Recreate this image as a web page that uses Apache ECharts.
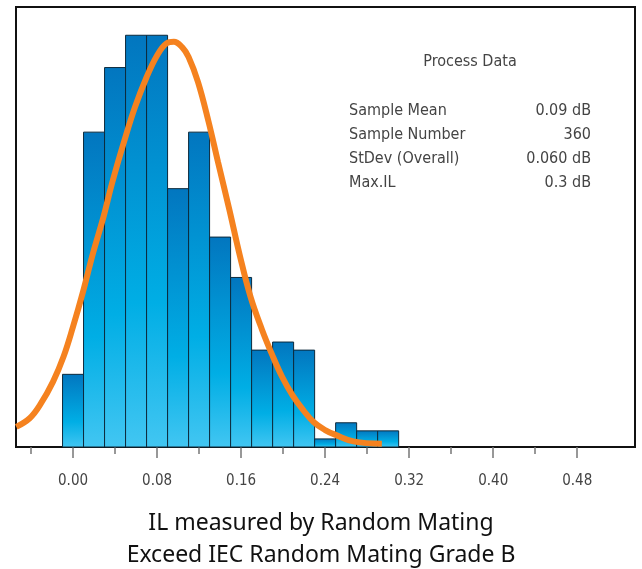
<!DOCTYPE html>
<html>
<head>
<meta charset="utf-8">
<script src="https://cdn.jsdelivr.net/npm/echarts@6/dist/echarts.min.js"></script>
<style>
  html, body { margin: 0; padding: 0; background: #fff; }
  #main { width: 642px; height: 569px; }
</style>
</head>
<body>
<div id="main"></div>
<script>
// histogram bins (centre, count), width 0.02
var binCenters = [0.00, 0.02, 0.04, 0.06, 0.08, 0.10, 0.12, 0.14, 0.16, 0.18, 0.20, 0.22, 0.24, 0.26, 0.28, 0.30];
var binCounts  = [9, 39, 47, 51, 51, 32, 39, 26, 21, 12, 13, 12, 1, 3, 2, 2];
var binWidth = 0.02;

// fitted curve
var curveX = [-0.054, -0.041, -0.031, -0.019, -0.009, 0.000, 0.009, 0.019, 0.029, 0.037, 0.049, 0.059, 0.070,
              0.080, 0.089, 0.096, 0.104, 0.110, 0.119, 0.129, 0.138, 0.149, 0.159, 0.169, 0.180, 0.189, 0.199,
              0.209, 0.219, 0.229, 0.240, 0.250, 0.267, 0.294];
var curveY = [2.5, 3.6, 5.3, 8.1, 11.2, 14.9, 19.0, 24.0, 28.5, 32.6, 38.0, 42.1, 45.8,
              48.5, 50.0, 50.2, 49.5, 48.3, 45.2, 40.3, 35.3, 29.3, 23.6, 18.6, 14.5, 11.6, 8.7,
              6.4, 4.6, 3.1, 2.1, 1.5, 0.7, 0.4];

var majorTicks = [0, 0.08, 0.16, 0.24, 0.32, 0.40, 0.48];
var minorTicks = [-0.04, 0.04, 0.12, 0.20, 0.28, 0.36, 0.44];

var statTitle = 'Process Data';
var statNames = ['Sample Mean', 'Sample Number', 'StDev (Overall)', 'Max.IL'];
var statValues = ['0.09 dB', '360', '0.060 dB', '0.3 dB'];

var captionLines = ['IL measured by Random Mating', 'Exceed IEC Random Mating Grade B'];

var chart = echarts.init(document.getElementById('main'));

var xMin = -0.0543, xMax = 0.535;
var labelFont = '"DejaVu Sans Condensed", "DejaVu Sans", sans-serif';

var bars = binCenters.map(function (c, i) { return [c, binCounts[i]]; });
var curve = curveX.map(function (x, i) { return [x, curveY[i]]; });

var graphics = [{
  type: 'text',
  style: { text: statTitle, x: 470, y: 62, textAlign: 'center', textVerticalAlign: 'middle',
           font: '16px ' + labelFont, fill: '#444' }
}];
statNames.forEach(function (n, i) {
  graphics.push({
    type: 'text',
    style: { text: n, x: 349, y: 111 + 24 * i, textAlign: 'left', textVerticalAlign: 'middle',
             font: '16px ' + labelFont, fill: '#444' }
  });
  graphics.push({
    type: 'text',
    style: { text: statValues[i], x: 591, y: 111 + 24 * i, textAlign: 'right', textVerticalAlign: 'middle',
             font: '16px ' + labelFont, fill: '#444' }
  });
});
captionLines.forEach(function (t, i) {
  graphics.push({
    type: 'text',
    style: { text: t, x: 321, y: 523 + 32 * i, textAlign: 'center', textVerticalAlign: 'middle',
             font: '23px "Noto Sans", sans-serif', fill: '#111' }
  });
});

chart.setOption({
  animation: false,
  backgroundColor: '#fff',
  grid: {
    left: 16, right: 7, top: 7, bottom: 122,
    show: true, borderColor: '#111', borderWidth: 2
  },
  xAxis: [{
    type: 'value', min: xMin, max: xMax,
    splitLine: { show: false },
    axisLine: { show: true, onZero: false, lineStyle: { color: '#111', width: 2 } },
    axisTick: { show: true, customValues: majorTicks, length: 11, lineStyle: { color: '#777', width: 1.5 } },
    axisLabel: {
      customValues: majorTicks, margin: 27,
      formatter: function (v) { return v.toFixed(2); },
      fontFamily: labelFont, fontSize: 15, color: '#444'
    }
  }, {
    type: 'value', min: xMin, max: xMax, position: 'bottom',
    splitLine: { show: false },
    axisLine: { show: false },
    axisTick: { show: true, customValues: minorTicks, length: 7, lineStyle: { color: '#777', width: 1.5 } },
    axisLabel: { show: false }
  }],
  yAxis: {
    type: 'value', min: 0, max: 54.5, show: false,
    splitLine: { show: false }
  },
  series: [{
    type: 'custom',
    xAxisIndex: 0,
    data: bars,
    renderItem: function (params, api) {
      var c = api.value(0), n = api.value(1);
      var p0 = api.coord([c - binWidth / 2, 0]);
      var p1 = api.coord([c + binWidth / 2, n]);
      return {
        type: 'rect',
        shape: { x: p0[0], y: p1[1], width: p1[0] - p0[0], height: p0[1] - p1[1] },
        style: {
          fill: new echarts.graphic.LinearGradient(0, 0, 0, 1, [
            { offset: 0, color: '#0276bf' },
            { offset: 0.65, color: '#00aee5' },
            { offset: 1, color: '#42c6f2' }
          ]),
          stroke: '#0d2a3c', lineWidth: 1
        }
      };
    },
    z: 2
  }, {
    type: 'line',
    xAxisIndex: 0,
    data: curve,
    smooth: 0.4,
    showSymbol: false,
    lineStyle: { color: '#f5821f', width: 6 },
    z: 3
  }],
  graphic: graphics
});
</script>
</body>
</html>
